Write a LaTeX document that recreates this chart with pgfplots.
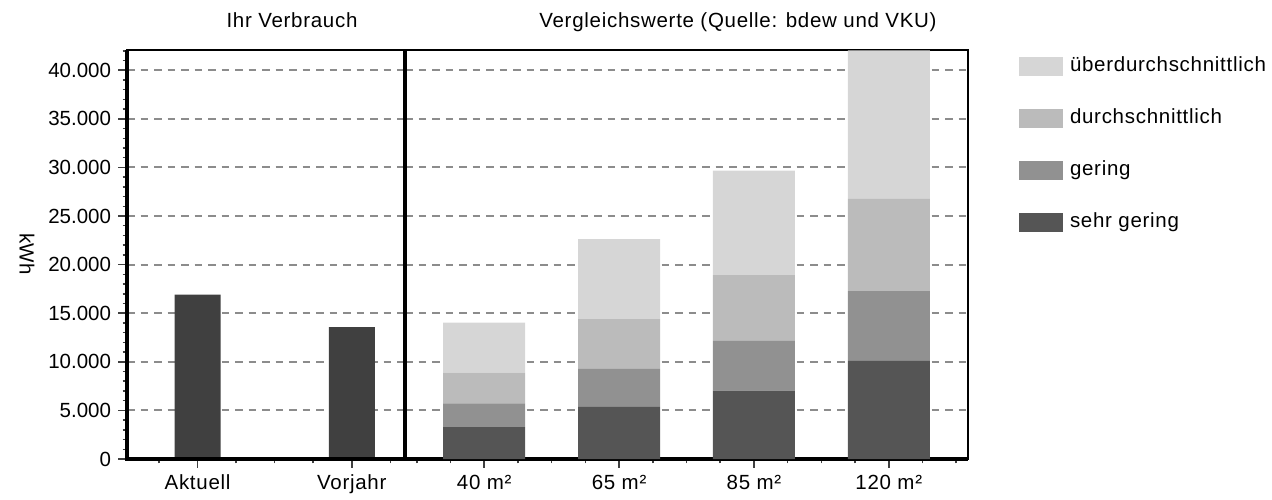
\documentclass[border=0pt]{standalone}
\usepackage{fontspec}
\setmainfont{Liberation Sans}
\newfontfamily\spaced[LetterSpace=3.5]{Liberation Sans}
\usepackage{pgfplots}
\pgfplotsset{compat=1.18}

\definecolor{cAkt}{HTML}{404040}
\definecolor{cSg}{HTML}{555555}
\definecolor{cG}{HTML}{919191}
\definecolor{cD}{HTML}{BBBBBB}
\definecolor{cU}{HTML}{D6D6D6}
\definecolor{cGrid}{HTML}{8C8C8C}

\pgfplotsset{
  panel/.style={
    scale only axis, height=409bp,
    ymin=0, ymax=42080,
    axis line style={line width=2bp},
    tick align=outside,
    major tick length=9bp, minor tick length=4.5bp,
    tick style={line width=1.5bp, color=black!75},
    ytick={0,5000,...,40000},
    ymajorgrids,
    major grid style={dash pattern=on 7.5bp off 6bp, line width=2bp, cGrid},
    xtick pos=bottom, ytick pos=left,
    scaled y ticks=false,
    yticklabel style={/pgf/number format/1000 sep={.}, /pgf/number format/assume math mode=true},
    xticklabel style={font=\fontsize{20.5bp}{24bp}\spaced},
    clip=false,
  },
}

\begin{document}
\fontsize{20.5bp}{24bp}\selectfont
\begin{tikzpicture}[x=1bp, y=1bp, font=\fontsize{20.5bp}{24bp}\selectfont]
\path[use as bounding box] (0bp,0bp) rectangle (1272bp,500bp);

% ---- Ihr Verbrauch
\begin{axis}[panel, at={(127bp,41bp)}, anchor=south west, width=278bp,
  xmin=-1.83, xmax=5.38,
  xtick={0,4}, xticklabels={Aktuell,Vorjahr},
  minor xtick={-1,1,2,3,5},
  minor ytick={0,1000,...,42000},
]
\addplot[ybar, bar width=46bp, fill=cAkt, draw=none] coordinates {(0,16900) (4,13560)};
\draw[line width=3.3bp] (rel axis cs:0,1) -- (rel axis cs:0,0) -- (rel axis cs:1,0);
\end{axis}

% ---- Vergleichswerte
\begin{axis}[panel, at={(405bp,41bp)}, anchor=south west, width=563bp,
  xmin=-2.35, xmax=14.35,
  xtick={0,4,8,12}, xticklabels={40 m²,65 m²,85 m²,120 m²},
  minor xtick={-2,-1,1,2,3,5,6,7,9,10,11,13,14},
  yticklabels={}, ytick style={draw=none},
  ybar stacked, bar width=82bp,
  reverse legend,
  legend style={at={(1.0906,0.984)}, anchor=north west, draw=none, fill=none,
    inner sep=0pt, outer sep=0pt, row sep=32bp,
    font=\fontsize{20.5bp}{24bp}\spaced,
    nodes={inner sep=0pt, text height=15bp, text depth=5bp},
    /tikz/every odd column/.append style={column sep=7bp}},
  legend cell align=left,
  legend image code/.code={\fill[#1] (0bp,-9.5bp) rectangle (44bp,9.5bp);},
]
\addplot[fill=cSg, draw=none] coordinates {(0,3290) (4,5350) (8,7030) (12,10100)};
\addlegendentry{sehr gering}
\addplot[fill=cG, draw=none] coordinates {(0,2440) (4,3910) (8,5120) (12,7180)};
\addlegendentry{gering}
\addplot[fill=cD, draw=none] coordinates {(0,3150) (4,5120) (8,6780) (12,9470)};
\addlegendentry{durchschnittlich}
\addplot[fill=cU, draw=none] coordinates {(0,5150) (4,8250) (8,10730) (12,15300)};
\addlegendentry{überdurchschnittlich}
\draw[line width=3.3bp] (rel axis cs:0,1) -- (rel axis cs:0,0) -- (rel axis cs:1,0);
\end{axis}

\node[anchor=base, font=\fontsize{20.5bp}{24bp}\spaced] at (292bp,472bp) {Ihr Verbrauch};
\node[anchor=base, font=\fontsize{20.5bp}{24bp}\spaced] at (738bp,472bp) {Vergleichswerte (Quelle: bdew und VKU)};
\node[rotate=-90] at (27bp,246bp) {kWh};
\end{tikzpicture}
\end{document}
